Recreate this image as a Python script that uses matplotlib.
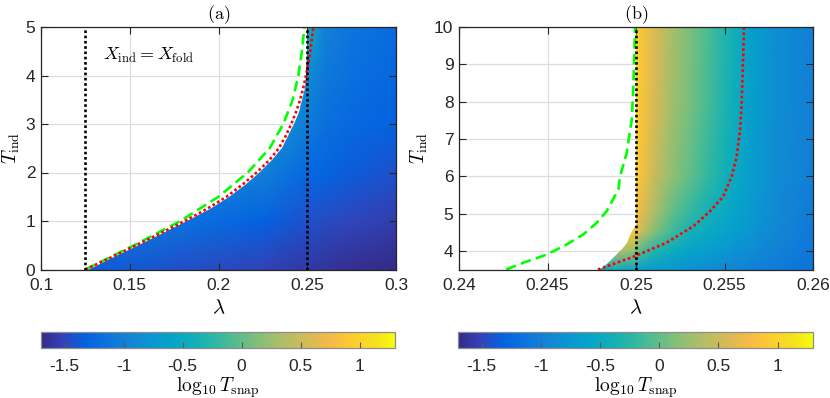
import numpy as np
import matplotlib
matplotlib.use('Agg')
import matplotlib.pyplot as plt
from matplotlib.colors import LinearSegmentedColormap, Normalize
from matplotlib.patches import Polygon
from matplotlib.cm import ScalarMappable

plt.rcParams['mathtext.fontset'] = 'cm'
plt.rcParams['font.family'] = ['Liberation Sans', 'DejaVu Sans']

# ---------------- data: panel (a) ----------------
a_xticks = [0.1, 0.15, 0.2, 0.25, 0.3]
a_xticklabels = ['0.1', '0.15', '0.2', '0.25', '0.3']
a_yticks = [0, 1, 2, 3, 4, 5]
a_yticklabels = ['0', '1', '2', '3', '4', '5']

# coarse field of log10 T_snap (rows: T, columns: lambda)
a_field_lam = [0.10, 0.15, 0.20, 0.225, 0.24, 0.25, 0.26, 0.275, 0.30]
a_field_T = [0, 1, 2, 3, 4, 5]
a_field_T0 = [-1.30, -1.38, -1.47, -1.52, -1.56, -1.59, -1.62, -1.66, -1.70]
a_field_T1 = [-1.05, -1.05, -1.22, -1.32, -1.38, -1.42, -1.46, -1.50, -1.55]
a_field_T2 = [-0.92, -0.92, -0.92, -1.00, -1.15, -1.25, -1.30, -1.36, -1.42]
a_field_T3 = [-0.82, -0.82, -0.82, -0.82, -0.85, -1.05, -1.18, -1.25, -1.32]
a_field_T4 = [-0.72, -0.72, -0.72, -0.72, -0.72, -0.85, -1.08, -1.18, -1.27]
a_field_T5 = [-0.30, -0.30, -0.30, -0.30, -0.30, -0.40, -0.98, -1.12, -1.22]

# left edge of the coloured region
a_edge_T = [0, 0.25, 0.5, 0.75, 1.0, 1.25, 1.5, 1.75, 2.0, 2.25, 2.5, 2.75, 3.0,
            3.25, 3.5, 3.75, 4.0, 4.5, 5.0]
a_edge_lam = [0.1265, 0.1410, 0.1550, 0.1690, 0.1825, 0.1950, 0.2060, 0.2150, 0.2230,
              0.2300, 0.2355, 0.2393, 0.2425, 0.2452, 0.2472, 0.2486, 0.2494, 0.2497, 0.2497]

# red dotted curve
a_red_T = [0, 0.25, 0.5, 0.75, 1.0, 1.25, 1.5, 1.75, 2.0, 2.25, 2.5, 2.75, 3.0,
           3.25, 3.5, 3.75, 4.0, 4.25, 4.5, 4.75, 5.0]
a_red_lam = [0.125, 0.1395, 0.1535, 0.1675, 0.1810, 0.1935, 0.2045, 0.2135, 0.2215,
             0.2285, 0.2340, 0.2378, 0.2410, 0.2437, 0.2460, 0.2478, 0.2493, 0.2506,
             0.2517, 0.2526, 0.2534]

# green dashed curve
a_green_T = [0, 0.5, 1.0, 1.5, 2.0, 2.5, 3.0, 3.5, 4.0, 4.5, 5.0]
a_green_lam = [0.125, 0.1525, 0.1785, 0.2000, 0.2165, 0.2288, 0.2365, 0.2418,
               0.2450, 0.2470, 0.2484]

# vertical dotted lines
a_vlines = [0.125, 0.25]

# ---------------- data: panel (b) ----------------
b_xticks = [0.24, 0.245, 0.25, 0.255, 0.26]
b_xticklabels = ['0.24', '0.245', '0.25', '0.255', '0.26']
b_yticks = [4, 5, 6, 7, 8, 9, 10]
b_yticklabels = ['4', '5', '6', '7', '8', '9', '10']

b_field_lam = [0.2475, 0.249, 0.2499, 0.2502, 0.251, 0.252, 0.253, 0.254, 0.255, 0.2556, 0.2565, 0.258, 0.26]
b_field_T = [3.5, 4.0, 4.5, 5.0, 6.0, 8.0, 10.0]
b_field_T35 = [-0.50, -0.50, -0.60, -0.65, -0.70, -0.75, -0.80, -0.85, -0.90, -0.95, -1.00, -1.05, -1.15]
b_field_T40 = [0.40, 0.40, 0.20, -0.05, -0.30, -0.48, -0.60, -0.68, -0.75, -0.80, -0.85, -0.98, -1.10]
b_field_T45 = [0.90, 0.90, 0.90, 0.55, 0.15, -0.15, -0.38, -0.50, -0.60, -0.67, -0.78, -0.93, -1.07]
b_field_T50 = [1.00, 1.00, 1.00, 0.70, 0.35, 0.00, -0.20, -0.38, -0.50, -0.60, -0.72, -0.90, -1.05]
b_field_T60 = [1.20, 1.20, 1.20, 0.85, 0.50, 0.20, 0.00, -0.20, -0.40, -0.50, -0.68, -0.87, -1.02]
b_field_T80 = [1.30, 1.30, 1.30, 0.90, 0.60, 0.30, 0.10, -0.10, -0.32, -0.45, -0.65, -0.85, -1.00]
b_field_T100 = [1.30, 1.30, 1.30, 0.90, 0.60, 0.32, 0.12, -0.08, -0.30, -0.42, -0.65, -0.85, -1.00]

b_edge_T = [3.5, 3.55, 3.69, 3.86, 4.04, 4.22, 4.49, 4.7, 10.0]
b_edge_lam = [0.2478, 0.2481, 0.2485, 0.2488, 0.2492, 0.2495, 0.2497, 0.2500, 0.2500]

b_red_T = [3.5, 3.84, 4.22, 4.66, 5.06, 5.46, 6.0, 6.53, 7.25, 7.96, 9.3, 10.0]
b_red_lam = [0.24785, 0.24985, 0.25173, 0.25324, 0.25418, 0.25493, 0.25541, 0.25569, 0.25588, 0.25597, 0.25606, 0.2561]

b_green_T = [3.5, 3.68, 3.9, 4.17, 4.44, 4.75, 5.06, 5.64, 6.0, 6.62, 7.51, 8.4, 10.0]
b_green_lam = [0.24266, 0.24363, 0.24495, 0.24608, 0.24702, 0.24778, 0.24834, 0.2490, 0.2491, 0.24947, 0.24976, 0.24985, 0.24995]

b_vlines = [0.25]

# ---------------- colour bar ----------------
cb_lim = [-1.7, 1.3]
cb_ticks = [-1.5, -1, -0.5, 0, 0.5, 1]
cb_ticklabels = ['-1.5', '-1', '-0.5', '0', '0.5', '1']

# parula-like colormap
_par = [(0.2081, 0.1663, 0.5292), (0.1959, 0.2645, 0.7279), (0.0117, 0.3875, 0.8820),
        (0.0498, 0.4586, 0.8641), (0.0793, 0.5200, 0.8312), (0.0343, 0.5966, 0.8199),
        (0.0228, 0.6535, 0.7768), (0.0843, 0.6928, 0.7062), (0.2178, 0.7250, 0.6193),
        (0.3953, 0.7459, 0.5244), (0.5709, 0.7485, 0.4494), (0.7184, 0.7411, 0.3905),
        (0.8507, 0.7299, 0.3360), (0.9739, 0.7314, 0.2666), (0.9880, 0.8066, 0.1794),
        (0.9589, 0.8949, 0.1132), (0.9763, 0.9831, 0.0538)]
_pos = [i * 4 / 63 for i in range(16)] + [1.0]
parula = LinearSegmentedColormap.from_list('parula', list(zip(_pos, _par)), N=256)
norm = Normalize(cb_lim[0], cb_lim[1])

AXC = (0.15, 0.15, 0.15)
TFS = 12.5
W, H = 830, 398
fig = plt.figure(figsize=(W / 100, H / 100), dpi=100)


def px_axes(x0, y0, x1, y1):
    return fig.add_axes([x0 / W, 1 - y1 / H, (x1 - x0) / W, (y1 - y0) / H])


def panel(ax, lam, T, rows, edge_lam, edge_T, red_lam, red_T, green_lam, green_T,
          vlines, xlim, ylim, xt, xtl, yt, ytl, title):
    L, TT = np.meshgrid(lam, T)
    Z = np.array(rows)
    mesh = ax.pcolormesh(L, TT, Z, shading='gouraud', cmap=parula, norm=norm, zorder=1)
    verts = list(zip(edge_lam, edge_T)) + [(xlim[1] + 1, edge_T[-1]), (xlim[1] + 1, edge_T[0])]
    poly = Polygon(verts, closed=True, transform=ax.transData, facecolor='none', edgecolor='none')
    ax.add_patch(poly)
    mesh.set_clip_path(poly)
    for x in xt:
        ax.axvline(x, color=(0.87, 0.87, 0.87), lw=0.9, zorder=0.5)
    for y in yt:
        ax.axhline(y, color=(0.87, 0.87, 0.87), lw=0.9, zorder=0.5)
    ax.plot(green_lam, green_T, color=(0, 1, 0), lw=1.9, linestyle=(0, (4, 2)), zorder=3)
    ax.plot(red_lam, red_T, color=(1, 0, 0), lw=1.9, linestyle=(0, (1, 1)), zorder=4)
    for v in vlines:
        ax.plot([v, v], ylim, color='k', lw=1.9, linestyle=(0, (1, 1)), zorder=5)
    ax.set_xlim(xlim)
    ax.set_ylim(ylim)
    ax.set_xticks(xt)
    ax.set_xticklabels(xtl)
    ax.set_yticks(yt)
    ax.set_yticklabels(ytl)
    ax.tick_params(direction='in', length=5, width=0.8, top=True, right=True,
                   labelsize=TFS, colors=AXC)
    ax.tick_params(axis='x', pad=6)
    ax.tick_params(axis='y', pad=4)
    for s in ax.spines.values():
        s.set_color(AXC)
        s.set_linewidth(0.9)
        s.set_zorder(6)
    ax.set_xlabel(r'$\lambda$', fontsize=15, labelpad=4)
    ax.set_ylabel(r'$T_{\mathrm{ind}}$', fontsize=14, labelpad=3)
    ax.set_title(title, fontsize=13, pad=6)


axA = px_axes(41, 27, 396, 269.5)
panel(axA, a_field_lam, a_field_T,
      [a_field_T0, a_field_T1, a_field_T2, a_field_T3, a_field_T4, a_field_T5],
      a_edge_lam, a_edge_T, a_red_lam, a_red_T, a_green_lam, a_green_T, a_vlines,
      (0.1, 0.3), (0, 5), a_xticks, a_xticklabels, a_yticks, a_yticklabels, r'$\mathrm{(a)}$')
axA.text(0.135, 4.42, r'$X_{\mathrm{ind}} = X_{\mathrm{fold}}$', fontsize=13,
         ha='left', va='center', zorder=7)

axB = px_axes(459, 27, 813, 269.5)
panel(axB, b_field_lam, b_field_T,
      [b_field_T35, b_field_T40, b_field_T45, b_field_T50, b_field_T60, b_field_T80, b_field_T100],
      b_edge_lam, b_edge_T, b_red_lam, b_red_T, b_green_lam, b_green_T, b_vlines,
      (0.24, 0.26), (3.5, 10), b_xticks, b_xticklabels, b_yticks, b_yticklabels, r'$\mathrm{(b)}$')

for (x0, x1) in [(41, 395), (458, 813)]:
    cax = px_axes(x0, 332, x1, 347.5)
    sm = ScalarMappable(norm=norm, cmap=parula)
    cb = fig.colorbar(sm, cax=cax, orientation='horizontal', ticks=cb_ticks)
    cb.ax.set_xticklabels(cb_ticklabels)
    cb.ax.tick_params(direction='in', length=4, width=0.8, colors=(0.35, 0.35, 0.35),
                      labelcolor=AXC, labelsize=TFS, pad=8)
    cb.outline.set_edgecolor((0.55, 0.55, 0.55))
    cb.outline.set_linewidth(0.9)
    cb.set_label(r'$\log_{10} T_{\mathrm{snap}}$', fontsize=14, labelpad=1)

fig.savefig('out.png', dpi=100)
